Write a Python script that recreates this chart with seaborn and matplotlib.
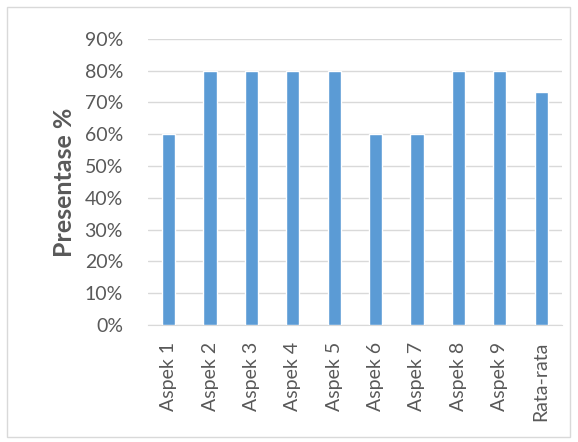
import numpy as np
import matplotlib.pyplot as plt
import seaborn as sns
import pandas as pd
from matplotlib.ticker import PercentFormatter
from matplotlib.patches import Rectangle

categories = ['Aspek 1', 'Aspek 2', 'Aspek 3', 'Aspek 4', 'Aspek 5',
              'Aspek 6', 'Aspek 7', 'Aspek 8', 'Aspek 9', 'Rata-rata']
values = [0.60, 0.80, 0.80, 0.80, 0.80, 0.60, 0.60, 0.80, 0.80, 0.733]

sns.set_style('white')
plt.rcParams['font.family'] = ['Lato', 'DejaVu Sans']

df = pd.DataFrame({'aspek': categories, 'nilai': values})

fig = plt.figure(figsize=(5.78, 4.42), dpi=100)
ax = fig.add_axes([0.256, 0.265, 0.716, 0.647])
sns.barplot(data=df, x='aspek', y='nilai', color='#5B9BD5', saturation=1,
            width=0.32, ax=ax, zorder=3)

ax.set_ylim(0, 0.9)
ax.set_yticks(np.arange(0, 0.91, 0.1))
ax.yaxis.set_major_formatter(PercentFormatter(1.0, decimals=0))
ax.grid(axis='y', color='#D9D9D9', linewidth=1, zorder=0)
for s in ['top', 'right', 'left']:
    ax.spines[s].set_visible(False)
ax.spines['bottom'].set_color('#D9D9D9')
ax.tick_params(axis='both', length=0, labelsize=14, labelcolor='#595959')
ax.tick_params(axis='x', pad=12)
ax.tick_params(axis='y', pad=18)
plt.setp(ax.get_xticklabels(), rotation=90)
ax.set_xlabel('')
ax.set_ylabel('Presentase %', fontsize=18, fontweight='bold', color='#595959', labelpad=6)

fig.patches.append(Rectangle((0.012, 0.012), 0.974, 0.972, transform=fig.transFigure,
                             fill=False, edgecolor='#D9D9D9', linewidth=1))

fig.savefig('out.png', dpi=100)
